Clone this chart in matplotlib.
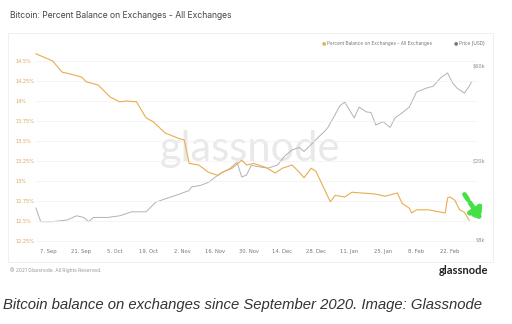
import matplotlib
matplotlib.use("Agg")
import matplotlib.pyplot as plt
from matplotlib.patches import Rectangle
import datetime as dt

# percent balance on exchanges (left axis, %)
bal_dates = ['2020-09-02', '2020-09-09', '2020-09-13', '2020-09-16', '2020-09-21', '2020-09-23',
             '2020-09-28', '2020-10-03', '2020-10-07', '2020-10-10', '2020-10-14', '2020-10-18',
             '2020-10-21', '2020-10-26', '2020-10-31', '2020-11-03', '2020-11-05', '2020-11-09',
             '2020-11-13', '2020-11-17', '2020-11-19', '2020-11-23', '2020-11-27', '2020-11-29',
             '2020-12-02', '2020-12-07', '2020-12-11', '2020-12-14', '2020-12-18', '2020-12-21',
             '2020-12-23', '2020-12-26', '2020-12-28', '2020-12-31', '2021-01-03', '2021-01-05',
             '2021-01-09', '2021-01-12', '2021-01-16', '2021-01-21', '2021-01-26', '2021-01-31',
             '2021-02-02', '2021-02-05', '2021-02-06', '2021-02-08', '2021-02-13', '2021-02-20',
             '2021-02-21', '2021-02-22', '2021-02-24', '2021-02-26', '2021-02-28', '2021-03-02']
bal_values = [14.59, 14.50, 14.36, 14.34, 14.30, 14.24,
              14.20, 14.05, 13.99, 14.00, 13.99, 13.79,
              13.74, 13.60, 13.54, 13.51, 13.22, 13.20,
              13.11, 13.07, 13.11, 13.16, 13.26, 13.20,
              13.22, 13.17, 13.10, 13.16, 13.20, 13.11,
              13.04, 13.16, 13.12, 12.93, 12.74, 12.82,
              12.80, 12.86, 12.85, 12.84, 12.81, 12.85,
              12.72, 12.66, 12.60, 12.64, 12.64, 12.60,
              12.79, 12.80, 12.76, 12.64, 12.61, 12.51]

# price in USD (right axis, log)
price_dates = ['2020-09-02', '2020-09-04', '2020-09-09', '2020-09-15', '2020-09-19', '2020-09-22',
               '2020-09-24', '2020-09-26', '2020-10-02', '2020-10-07', '2020-10-12', '2020-10-18',
               '2020-10-22', '2020-10-26', '2020-10-31', '2020-11-05', '2020-11-06', '2020-11-10',
               '2020-11-13', '2020-11-18', '2020-11-22', '2020-11-25', '2020-11-27', '2020-11-29',
               '2020-12-01', '2020-12-04', '2020-12-08', '2020-12-12', '2020-12-15', '2020-12-18',
               '2020-12-21', '2020-12-23', '2020-12-28', '2020-12-29', '2021-01-01', '2021-01-02',
               '2021-01-05', '2021-01-07', '2021-01-09', '2021-01-13', '2021-01-15', '2021-01-18',
               '2021-01-20', '2021-01-22', '2021-01-25', '2021-01-28', '2021-01-30', '2021-02-02',
               '2021-02-05', '2021-02-08', '2021-02-12', '2021-02-15', '2021-02-18', '2021-02-21',
               '2021-02-23', '2021-02-25', '2021-02-28', '2021-03-02', '2021-03-03']
price_values = [11600, 9900, 9900, 10100, 10600, 10400,
                9900, 10400, 10400, 10600, 11100, 11100,
                12400, 12900, 13500, 14200, 14800, 15100,
                15600, 17300, 18300, 19700, 16600, 17000,
                19000, 18700, 18400, 19100, 21200, 22700,
                23400, 22300, 25600, 26300, 28500, 29500,
                34200, 37900, 39500, 32900, 37300, 35300,
                35000, 30300, 31500, 29500, 32900, 34900,
                37300, 44400, 46400, 47500, 52200, 55400,
                49500, 46400, 43800, 47500, 50000]

left_ticks = [12.25, 12.5, 12.75, 13, 13.25, 13.5, 13.75, 14, 14.25, 14.5]
left_labels = ['12.25%', '12.5%', '12.75%', '13%', '13.25%', '13.5%', '13.75%', '14%', '14.25%', '14.5%']
right_ticks = [8000, 20000, 60000]
right_labels = ['$8k', '$20k', '$60k']
x_ticks = ['2020-09-07', '2020-09-21', '2020-10-05', '2020-10-19', '2020-11-02', '2020-11-16',
           '2020-11-30', '2020-12-14', '2020-12-28', '2021-01-11', '2021-01-25', '2021-02-08',
           '2021-02-22']
x_labels = ['7. Sep', '21. Sep', '5. Oct', '19. Oct', '2. Nov', '16. Nov', '30. Nov',
            '14. Dec', '28. Dec', '11. Jan', '25. Jan', '8. Feb', '22. Feb']

ORANGE = '#e9ac4e'
GREY = '#b2b2b2'


def todate(s):
    return dt.datetime.strptime(s, '%Y-%m-%d')


fig = plt.figure(figsize=(5.12, 3.24), dpi=100)
fig.patch.set_facecolor('white')
W, H = 512, 324

# card border (behind everything)
card = Rectangle((8 / W, 1 - 262 / H), 485 / W, 229 / H, transform=fig.transFigure,
                 facecolor='none', edgecolor='#eeeeee', lw=0.6, zorder=-5)
fig.patches.append(card)

ax = fig.add_axes([35 / W, 1 - 245 / H, 443 / W, 196 / H])
ax2 = ax.twinx()
ax.set_zorder(2)
ax.patch.set_visible(False)
ax2.patch.set_visible(False)

start = todate('2020-09-07')
ax.set_xlim(start - dt.timedelta(days=5.4), start + dt.timedelta(days=179.7))
ax.set_ylim(12.2, 14.65)
ax2.set_yscale('log')
ax2.set_ylim(7560, 73050)

ax.plot([todate(d) for d in bal_dates], bal_values, color=ORANGE, lw=0.8, zorder=3)
ax2.plot([todate(d) for d in price_dates], price_values, color=GREY, lw=0.7, zorder=3)

for a in (ax, ax2):
    for s in a.spines.values():
        s.set_visible(False)

ax.set_yticks(left_ticks)
ax.set_yticklabels(left_labels)
ax.tick_params(axis='y', length=0, pad=13.7, labelsize=3.6, labelcolor='#d9a55a')
for t in ax.get_yticklabels():
    t.set_horizontalalignment('left')
ax.grid(axis='y', color='#f2f2f2', lw=0.5)
ax.set_axisbelow(True)

ax2.yaxis.set_minor_locator(matplotlib.ticker.NullLocator())
ax2.set_yticks(right_ticks)
ax2.set_yticklabels(right_labels)
ax2.tick_params(axis='y', length=0, pad=5, labelsize=3.6, labelcolor='#888888')
for t in ax2.get_yticklabels():
    t.set_horizontalalignment('right')

ax.set_xticks([todate(d) for d in x_ticks])
ax.set_xticklabels(x_labels)
ax.tick_params(axis='x', length=0, pad=3, labelsize=3.8, labelcolor='#777777')

# watermark
ax2.text(0.485, 0.49, 'glassnode', transform=ax2.transAxes, ha='center', va='center',
         fontsize=30, color='#e9e9e9', family='Lato', zorder=0)

# green annotation arrow
ax.annotate('', xy=(1.011, 0.117), xytext=(0.966, 0.27), xycoords='axes fraction',
            textcoords='axes fraction', annotation_clip=False,
            arrowprops=dict(arrowstyle='-|>,head_length=0.6,head_width=0.45', color='#44e044',
                            lw=3.4, linestyle=(0, (1.3, 0.8))), zorder=5)

# title & legend
fig.text(10 / W, 1 - 16 / H, 'Bitcoin: Percent Balance on Exchanges - All Exchanges',
         fontsize=6.2, color='#444444', va='center', family='Inter')
fig.text(322 / W, 1 - 43 / H, '\u25cf', fontsize=3.5, color=ORANGE, va='center')
fig.text(327 / W, 1 - 43 / H, 'Percent Balance on Exchanges - All Exchanges', fontsize=3.4,
         color='#777777', va='center', family='Inter')
fig.text(454 / W, 1 - 43 / H, '\u25cf', fontsize=3.5, color='#777777', va='center')
fig.text(459 / W, 1 - 43 / H, 'Price (USD)', fontsize=3.4, color='#777777', va='center', family='Inter')

# footer
fig.text(10 / W, 1 - 270 / H, '\u00a9 2021 Glassnode. All Rights Reserved.', fontsize=3.5,
         color='#999999', va='center', family='Inter')
fig.text(488 / W, 1 - 270 / H, 'glassnode', fontsize=8, color='#222222', va='center', ha='right',
         family='Lato', fontweight='bold')
fig.text(3 / W, 1 - 305 / H, 'Bitcoin balance on exchanges since September 2020. Image: Glassnode',
         fontsize=10.7, color='#333333', va='center', family='Liberation Sans', style='italic')

fig.savefig('out.png', dpi=100, facecolor='white')
